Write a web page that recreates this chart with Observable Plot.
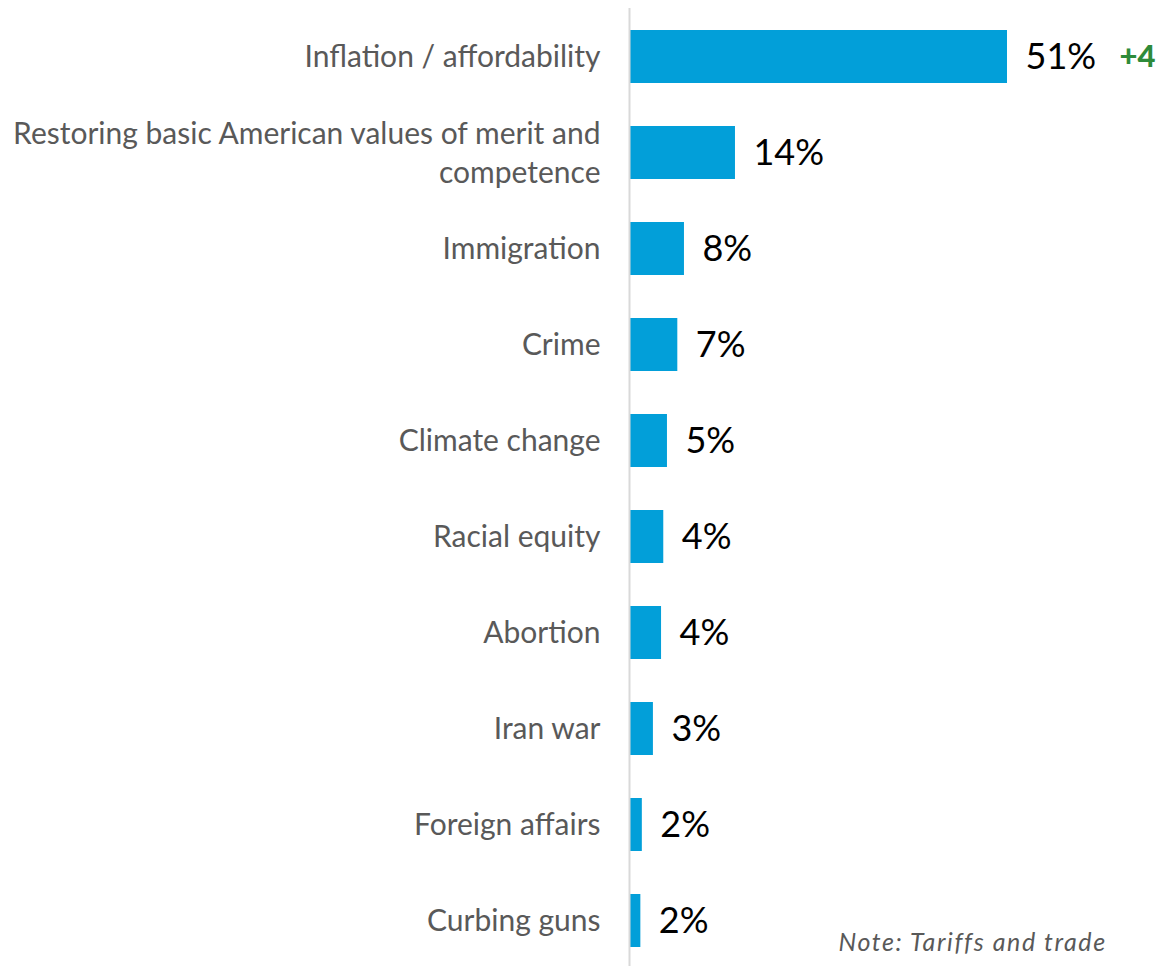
<!DOCTYPE html>
<html>
<head>
<meta charset="utf-8">
<script src="https://cdn.jsdelivr.net/npm/d3@7"></script>
<script src="https://cdn.jsdelivr.net/npm/@observablehq/plot@0.6"></script>
<style>
  html, body { margin: 0; padding: 0; background: #fff; overflow: hidden; }
  #chart svg { display: block; }
</style>
</head>
<body>
<div id="chart"></div>
<script>
const categories = [
  "Inflation / affordability",
  "Restoring basic American values of merit and\ncompetence",
  "Immigration",
  "Crime",
  "Climate change",
  "Racial equity",
  "Abortion",
  "Iran war",
  "Foreign affairs",
  "Curbing guns"
];
const values = [51, 14.2, 7.3, 6.4, 5.0, 4.5, 4.2, 3.1, 1.6, 1.4];
const valueLabels = ["51%", "14%", "8%", "7%", "5%", "4%", "4%", "3%", "2%", "2%"];
const changes = ["+4", "", "", "", "", "", "", "", "", ""];
const note = "Note: Tariffs and trade\npolicies were not an option";

const rows = categories.map((c, i) => ({
  category: c, value: values[i], label: valueLabels[i], change: changes[i]
}));

const W = 1164, H = 966, left = 630;
const xMax = d3.max(values) * (W - left) / 377;

const chart = Plot.plot({
  width: W,
  height: H,
  marginLeft: left,
  marginRight: 0,
  marginTop: 8,
  marginBottom: 0,
  style: { fontFamily: "Lato, 'Open Sans', sans-serif", background: "#fff" },
  x: { domain: [0, xMax], axis: null },
  y: { domain: categories, range: [7.9, 969.6], paddingInner: 0.45, paddingOuter: 0.225, axis: null },
  marks: [
    Plot.barX(rows, { x: "value", y: "category", fill: "#029fd9" }),
    Plot.ruleX([0], { stroke: "#d9d9d9", strokeWidth: 2, dx: -1 }),
    Plot.text(rows, {
      x: 0, y: "category", text: "category", textAnchor: "end", dx: -30, dy: -2,
      fill: "#595959", fontSize: 30, lineHeight: 1.3
    }),
    Plot.text(rows, {
      x: "value", y: "category", text: "label", textAnchor: "start", dx: 18,
      fill: "#000", fontSize: 36
    }),
    Plot.text(rows.filter(d => d.change), {
      x: "value", y: "category", text: "change", textAnchor: "start", dx: 112,
      fill: "#2e8b3a", fontSize: 31, fontWeight: 900
    }),
    Plot.text([note], {
      frameAnchor: "bottom-left", text: d => d, textAnchor: "start", lineAnchor: "top",
      dx: 208, dy: -40, fill: "#595959", fontSize: 25, fontStyle: "italic", lineHeight: 1.36
    })
  ]
});
d3.select(chart).selectAll("text").filter(function () {
  return this.textContent.startsWith("Note");
}).style("letter-spacing", "1.6px");
document.getElementById("chart").appendChild(chart);
</script>
</body>
</html>
